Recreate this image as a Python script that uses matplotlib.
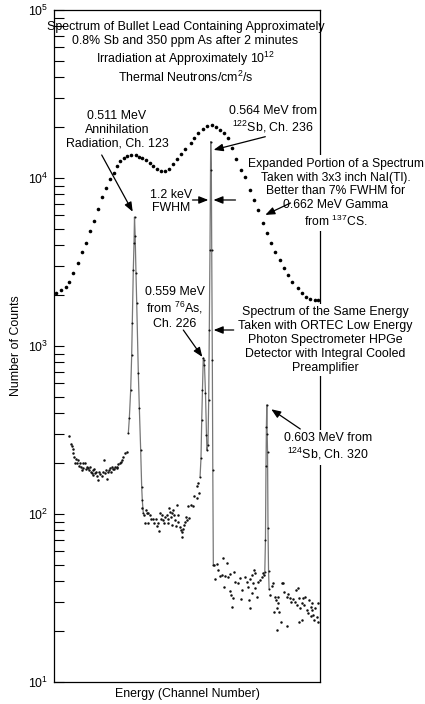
import matplotlib
matplotlib.use('Agg')
import matplotlib.pyplot as plt

plt.rcParams['font.family'] = ['Liberation Sans', 'DejaVu Sans']
plt.rcParams['mathtext.fontset'] = 'custom'
plt.rcParams['mathtext.rm'] = 'Liberation Sans'
plt.rcParams['mathtext.it'] = 'Liberation Sans:italic'
plt.rcParams['mathtext.bf'] = 'Liberation Sans:bold'

# ---------------- data (channel, counts) ----------------
# NaI(Tl) spectrum (large dots)
nai_ch = [6, 13, 21, 26, 32, 39, 45, 50, 57, 63, 68, 75, 81, 87, 92, 97, 102, 107, 112, 118,
          125, 130, 134, 140, 146, 151, 157, 162, 169, 175, 180, 186, 193, 199, 207, 211, 217,
          225, 231, 238, 244, 250, 256, 263, 269, 275, 281, 288, 295, 301, 307, 314, 320, 326,
          332, 340, 346, 352, 358, 366, 372, 379, 385, 392, 397]
nai_counts = [2070, 2150, 2250, 2400, 2720, 3120, 3630, 4100, 4840, 5550, 6540, 7710, 8720, 9860,
              10720, 11780, 12620, 13150, 13520, 13710, 13710, 13340, 13150, 12800, 12280, 11780,
              11310, 11010, 11010, 11310, 12110, 12970, 13900, 14880, 16150, 17300, 18530, 19590,
              20400, 20660, 20100, 19330, 18530, 17300, 15090, 12970, 11160, 10140, 8490, 7400,
              6450, 5400, 4710, 4100, 3630, 3250, 2910, 2650, 2400, 2210, 2070, 1960, 1900, 1880, 1880]

# HPGe spectrum: continuum dots
ge_ch = [25.4, 27.9, 29.4, 30.9, 31.5, 32.8, 34.3, 35.4, 37.8, 39.3, 40.7, 41.8, 42.8, 44.3, 45.8,
         46.7, 49.2, 50.7, 51.8, 54.2, 55.6, 56.7, 57.7, 59.2, 60.7, 61.6, 63.1, 64.1, 65.6, 67.6,
         69.0, 70.5, 71.6, 74.1, 76.5, 78.0, 79.0, 80.5, 81.6, 83.1, 85.4, 86.5, 88.0, 89.0, 90.5,
         92.4, 93.9, 96.5, 97.4, 98.9, 101.4, 102.9, 103.9, 106.3, 108.8, 111.4,
         134.6, 137.6, 138.6, 139.7, 141.2, 142.7, 143.6, 146.1, 147.6, 151.0, 152.5, 154.6, 156.1,
         158.5, 159.5, 161.0, 162.5, 164.4, 165.9, 167.4, 168.5, 171.0, 172.5, 173.4, 174.9, 175.9,
         177.4, 178.4, 179.3, 180.8, 182.3, 183.4, 184.4, 185.9, 187.4, 188.3, 190.8, 192.3, 193.3,
         194.2, 195.7, 197.2, 198.3, 199.7, 200.8, 203.2, 204.7, 207.2, 210.6, 212.1, 215.7, 216.5,
         218.3, 219.1,
         242.0, 243.0, 245.5, 248.0, 250.5, 252.9, 255.4, 256.0, 257.9, 260.4, 262.9, 265.4, 265.9,
         266.9, 267.8, 270.3, 271.8, 272.8, 277.8, 280.3, 281.8, 282.8, 287.7, 290.2, 292.7, 293.2,
         295.2, 295.7, 297.7, 298.2, 300.1, 301.6, 302.6, 303.1, 305.1, 307.6, 310.1, 312.6, 314.1,
         316.0,
         325.0, 327.5, 330.0, 330.5, 332.4, 333.4, 334.9, 335.4, 336.4, 337.4, 338.4, 341.4, 342.4,
         344.8, 346.3, 349.8, 350.3, 351.3, 354.8, 356.3, 359.8, 362.2, 363.2, 364.7, 367.2, 367.7,
         368.2, 369.7, 372.2, 372.7, 374.7, 376.2, 377.1, 379.6, 382.1, 383.1, 386.1, 386.6, 387.1,
         388.1, 389.6, 391.1, 392.1, 394.6, 396.1, 397.0]
ge_counts = [292, 261, 254, 243, 230, 217, 202, 212, 200, 210, 193, 202, 191, 183, 200,
             189, 202, 185, 191, 187, 183, 190, 179, 175, 183, 171, 185, 175, 179, 168,
             159, 179, 173, 168, 179, 210, 175, 183, 161, 179, 183, 187, 179, 191, 185,
             185, 191, 191, 187, 198, 200, 204, 210, 217, 230, 235,
             108, 99, 89, 105, 101, 89, 102, 99, 93, 94, 88, 93, 85,
             88, 79, 101, 94, 99, 92, 88, 96, 99, 93, 88, 108, 103,
             96, 86, 101, 105, 99, 92, 85, 113, 99, 90, 84, 80, 73,
             78, 81, 86, 90, 96, 92, 112, 95, 113, 111, 128, 124, 146,
             152, 133,
             49.7, 40.8, 50.4, 46.4, 42.8, 43.4, 54.5, 36.9, 42.8, 51.3, 42.4, 44.0, 35.0,
             33.0, 28.1, 31.5, 45.4, 39.6, 38.7, 41.4, 31.0, 35.3, 42.4, 39.6, 36.9, 30.8,
             40.8, 27.4, 43.4, 34.0, 38.7, 46.4, 36.1, 44.4, 31.9, 39.6, 40.5, 42.4, 44.4,
             43.4,
             33.0, 37.2, 39.0, 26.2, 32.2, 30.8, 27.4, 20.4, 32.2, 29.4, 26.2, 22.9, 38.7,
             39.0, 34.5, 32.2, 21.5, 33.4, 31.5, 30.1, 31.0, 30.1, 35.3, 28.7, 36.5, 22.9,
             31.5, 27.4, 29.4, 23.4, 31.5, 28.7, 32.2, 26.8, 25.6, 30.8, 28.1, 24.7, 29.4,
             26.8, 25.0, 23.4, 27.4, 24.5, 29.4, 22.9]

# HPGe full-energy peaks (joined by lines)
peak511_ch = [113.8, 115.3, 117.3, 118.8, 119.7, 121.2, 122.3, 123.0, 124.0, 125.2, 126.3,
              128.7, 130.2, 132.2, 133.7, 134.6, 136.1]
peak511_counts = [303, 372, 547, 884, 1370, 2830, 4100, 5860, 4500, 2720, 1800,
                  690, 428, 240, 145, 121, 101]
peak559_564_ch = [220.7, 222.1, 223.2, 224.3, 225.5, 226.3, 227.3, 228.8, 230.3, 231.0, 232.5,
                  233.6, 234.5, 235.5, 236.6, 237.5, 238.1, 239.0, 239.7, 240.5]
peak559_564_counts = [166, 215, 363, 547, 849, 820, 771, 525, 295, 240, 258,
                      477, 1245, 3720, 16440, 11170, 3720, 826, 183, 49.7]
peak603_ch = [317.2, 318.2, 319.0, 319.6, 320.2, 320.8, 321.3, 322.0, 322.8, 323.6]
peak603_counts = [45, 70, 193, 330, 446, 300, 235, 82, 46, 36]

# ---------------- figure ----------------
W, H = 425, 704
fig = plt.figure(figsize=(W / 100, H / 100), dpi=100)
ax = fig.add_axes([54 / W, 1 - 682 / H, (320 - 54) / W, (682 - 10) / H])
ax.set_yscale('log')
ax.set_ylim(10, 1e5)
ax.set_xlim(3, 399.5)


def fp(x, y):
    return (x, H - y)


FS = 8.9

for s in ax.spines.values():
    s.set_linewidth(0.9)
ax.set_xticks([])
ax.tick_params(axis='y', which='both', direction='in', length=7.2, width=0.8,
               right=False, labelsize=FS, pad=4)
ax.set_ylabel('Number of Counts', fontsize=FS, labelpad=4)
ax.set_xlabel('Energy (Channel Number)', fontsize=FS, labelpad=4)

# data
ax.plot(nai_ch, nai_counts, 'o', ms=2.6, color='black', mec='none', zorder=6)
for pc, pv in [(peak511_ch, peak511_counts), (peak559_564_ch, peak559_564_counts),
               (peak603_ch, peak603_counts)]:
    ax.plot(pc, pv, '-', color='#777777', lw=0.9, zorder=5)
    ax.plot(pc, pv, 'o', ms=1.5, color='#111111', mec='none', zorder=6)
ax.plot(ge_ch, ge_counts, 'o', ms=1.8, color='#111111', mec='none', zorder=6)

# texts (inside the axes' artist list so data marks can sit on top of the white boxes)
wbox = dict(boxstyle='square,pad=0.2', fc='white', ec='none')


def label(x, y, s, box=False, fs=FS):
    ax.text(x / W, 1 - y / H, s, transform=fig.transFigure, ha='center', va='center',
            multialignment='center', fontsize=fs, zorder=4, clip_on=False,
            bbox=wbox if box else None)


label(185.5, 53, 'Spectrum of Bullet Lead Containing Approximately\n'
                 '0.8% Sb and 350 ppm As after 2 minutes\n'
                 'Irradiation at Approximately 10$^{12}$\n'
                 'Thermal Neutrons/cm$^{2}$/s')
label(117, 130, '0.511 MeV\nAnnihilation\nRadiation, Ch. 123')
label(273, 120, '0.564 MeV from\n$^{122}$Sb, Ch. 236')
label(171, 201.5, '1.2 keV\nFWHM')
label(335.5, 193.3, 'Expanded Portion of a Spectrum\nTaken with 3x3 inch NaI(Tl).\n'
                    'Better than 7% FWHM for\n0.662 MeV Gamma\nfrom $^{137}$CS.', box=True, fs=8.7)
label(174.5, 308, '0.559 MeV\nfrom $^{76}$As,\nCh. 226')
label(325, 340, 'Spectrum of the Same Energy\nTaken with ORTEC Low Energy\n'
                'Photon Spectrometer HPGe\nDetector with Integral Cooled\nPreamplifier', box=True)
label(328, 447, '0.603 MeV from\n$^{124}$Sb, Ch. 320', box=True)

aprops = dict(arrowstyle='-|>,head_length=0.7,head_width=0.28', color='black', lw=0.9,
              mutation_scale=8, shrinkA=0, shrinkB=0)
arrows = [
    ((120.3, 6300), (101.7, 155)),
    ((241.0, 14700), (265.3, 136.7)),
    ((233.0, 7400), (192.5, 200)),
    ((240.7, 7400), (235.5, 200)),
    ((318.0, 6030), (290.5, 203)),
    ((241.0, 1245), (233.7, 330)),
    ((224.1, 861), (183.3, 330)),
    ((326.9, 420), (300.3, 429)),
]
for tip, tail in arrows:
    ax.annotate('', xy=tip, xycoords='data', xytext=fp(*tail), textcoords='figure pixels',
                arrowprops=aprops, annotation_clip=False, zorder=7)

fig.savefig('out.png', dpi=100)
